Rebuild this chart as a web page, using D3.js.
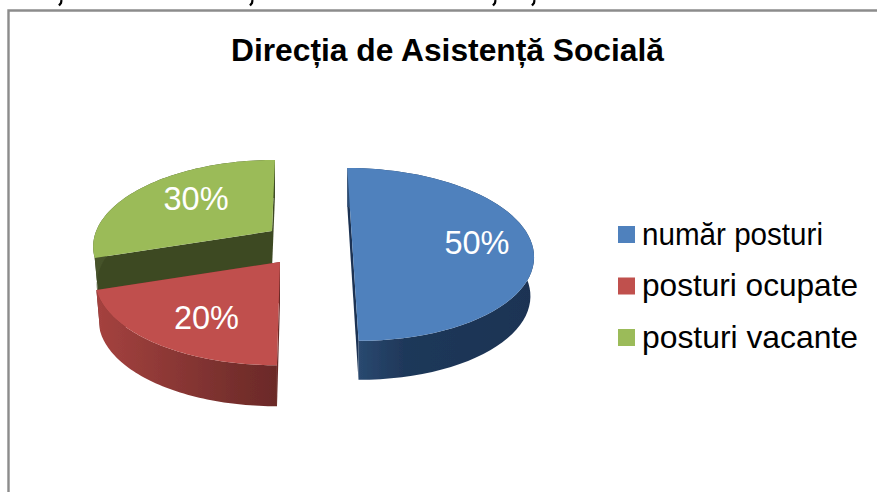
<!DOCTYPE html>
<html>
<head>
<meta charset="utf-8">
<script src="https://cdn.jsdelivr.net/npm/d3@7"></script>
<style>
    html, body { margin: 0; padding: 0; background: #fff; }
    svg { display: block; }
    text { font-family: "Liberation Sans", Arial, sans-serif; }
</style>
</head>
<body>
<div id="chart"></div>
<script>
const title = "Direcția de Asistență Socială";
const categories = ["număr posturi", "posturi ocupate", "posturi vacante"];
const values = [50, 20, 30];
const valueLabels = ["50%", "20%", "30%"];
const topColors = ["#4f81bd", "#c0504d", "#9bbb59"];
const wallLight = ["#2c4d75", "#a5423f", "#46532a"];
const wallDark = ["#1c3353", "#6b2a28", "#3e4a24"];
const wallMidOffset = [0.3, 0.75, 0.5];

// where each exploded slice sits, and how the lines lean in perspective
const apexX = [352, 280, 272];
const apexY = [240, 262, 231];
const lean = [5.5, -2.5, -3.5];
const radiusScale = [1, 1.02, 0.985];
const sliceDepth = [39, 41, 38];
const depthShrink = [0.98, 0.98, 0.98];
const labelNudgeX = [0, 11, 16];
const labelNudgeY = [14, 13, 11];
const legendWidths = [181, 216, 216];

// tails of the cropped text line above the frame
const tailX = [60, 251, 494, 533];

const width = 877;
const height = 492;
const radiusX = 178.5;
const radiusY = 84;
const perspective = 0.167;

const svg = d3
    .select("#chart")
    .append("svg")
    .attr("width", width)
    .attr("height", height);

const defs = svg.append("defs");
defs.append("filter")
    .attr("id", "soft")
    .append("feGaussianBlur")
    .attr("stdDeviation", 0.5);

//frame
svg.append("path")
    .attr("d", d3.line()([[8.5, height], [8.5, 10.5], [width, 10.5]]))
    .attr("fill", "none")
    .attr("stroke", "#8c8c8c")
    .attr("stroke-width", 2.4);

svg.selectAll(".tail")
    .data(tailX)
    .enter()
    .append("path")
    .attr("class", "tail")
    .attr("d", d => d3.line()([[d + 1.5, 0], [d + 1, 3], [d - 1, 5.5]]))
    .attr("fill", "none")
    .attr("stroke", "#000")
    .attr("stroke-width", 2.2);

//title
svg.append("text")
    .attr("x", 447.5)
    .attr("y", 61)
    .attr("text-anchor", "middle")
    .attr("font-size", 31)
    .attr("font-weight", "bold")
    .attr("textLength", 433)
    .attr("lengthAdjust", "spacingAndGlyphs")
    .attr("fill", "#000")
    .text(title);

// circle point -> screen point, r is 0..1 from the slice apex
function project(i, angle, r, lower) {
    const sideways = r * radiusScale[i] * Math.sin(angle);
    const toward = -r * radiusScale[i] * Math.cos(angle);
    const w = 1 - perspective * toward;
    const relX = (radiusX * sideways + lean[i] * toward) / w;
    const relY = (radiusY * toward) / w;
    return lower
        ? [apexX[i] + relX * depthShrink[i], apexY[i] + relY + sliceDepth[i]]
        : [apexX[i] + relX, apexY[i] + relY];
}

function sampleArc(i, from, to, lower) {
    const steps = 60;
    return d3
        .range(steps + 1)
        .map(k => project(i, from + ((to - from) * k) / steps, 1, lower));
}

const slices = d3
    .pie()
    .sort(null)
    .startAngle(0)
    .endAngle(2 * Math.PI)(values);

const line = d3.line();
const pie = svg.append("g").attr("filter", "url(#soft)");

// back to front: green, red, blue
[2, 1, 0].forEach(i => {
    const { startAngle, endAngle } = slices[i];

    const gradient = defs
        .append("linearGradient")
        .attr("id", "wall" + i)
        .attr("x1", 0)
        .attr("x2", 1)
        .attr("y1", 0)
        .attr("y2", 0);
    gradient.append("stop").attr("offset", 0).attr("stop-color", wallLight[i]);
    gradient
        .append("stop")
        .attr("offset", wallMidOffset[i])
        .attr("stop-color", d3.interpolateRgb(wallLight[i], wallDark[i])(0.8));
    gradient.append("stop").attr("offset", 1).attr("stop-color", wallDark[i]);

    // cut faces
    [startAngle, endAngle].forEach(angle => {
        const face = [
            project(i, angle, 0),
            project(i, angle, 1),
            project(i, angle, 1, true),
            project(i, angle, 0, true)
        ];
        pie.append("path")
            .attr("d", line(face) + "Z")
            .attr("fill", wallDark[i]);
    });

    // outer wall
    const wall = sampleArc(i, startAngle, endAngle).concat(
        sampleArc(i, startAngle, endAngle, true).reverse()
    );
    pie.append("path")
        .attr("d", line(wall) + "Z")
        .attr("fill", `url(#wall${i})`);

    // top surface
    const top = [project(i, 0, 0)].concat(sampleArc(i, startAngle, endAngle));
    pie.append("path")
        .attr("d", line(top) + "Z")
        .attr("fill", topColors[i]);
});

//value labels
slices.forEach((d, i) => {
    const mid = (d.startAngle + d.endAngle) / 2;
    const [x, y] = project(i, mid, 0.7);
    svg.append("text")
        .attr("x", x + labelNudgeX[i])
        .attr("y", y + labelNudgeY[i])
        .attr("text-anchor", "middle")
        .attr("font-size", 32.5)
        .attr("fill", "#fff")
        .text(valueLabels[i]);
});

//legend
const legendY = d3.scalePoint().domain(categories).range([234.5, 337.5]);
const legend = svg
    .selectAll(".legend")
    .data(categories)
    .enter()
    .append("g")
    .attr("class", "legend")
    .attr("transform", d => `translate(618, ${legendY(d)})`);

legend
    .append("rect")
    .attr("x", 0)
    .attr("y", -8.5)
    .attr("width", 17)
    .attr("height", 17)
    .attr("fill", (d, i) => topColors[i]);

legend
    .append("text")
    .attr("x", 24)
    .attr("y", 10)
    .attr("font-size", 30.5)
    .attr("textLength", (d, i) => legendWidths[i])
    .attr("lengthAdjust", "spacingAndGlyphs")
    .attr("fill", "#000")
    .text(d => d);
</script>
</body>
</html>
